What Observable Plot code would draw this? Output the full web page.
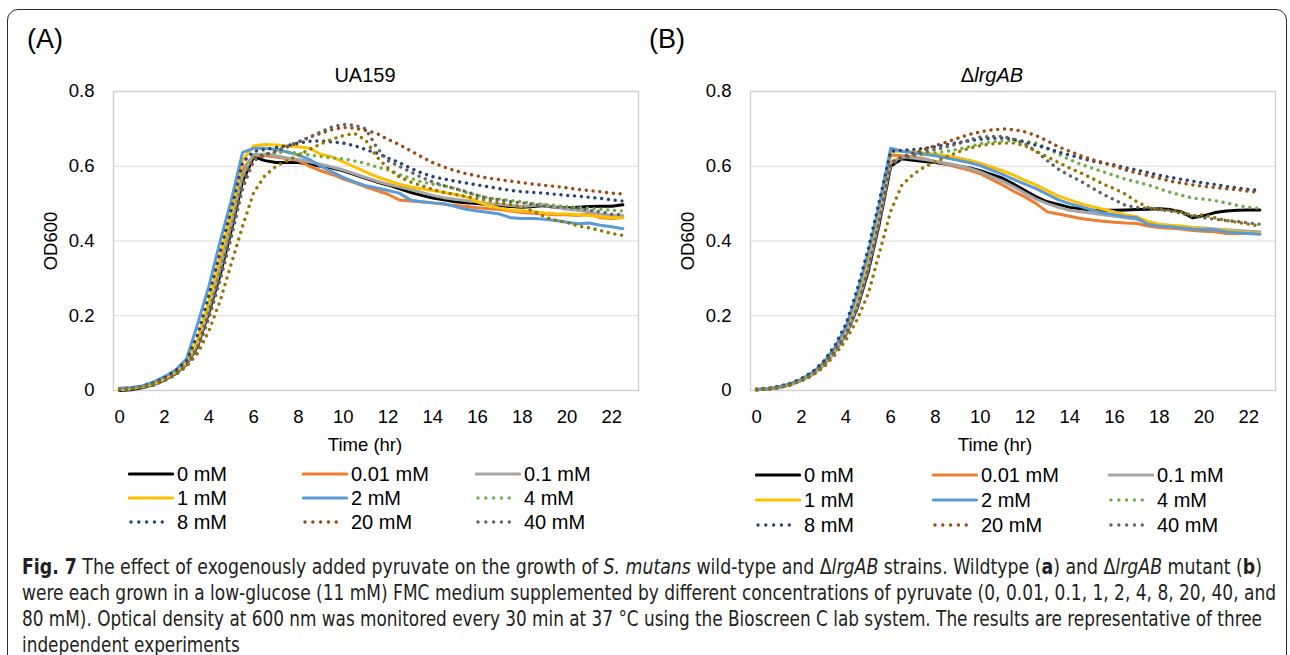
<!DOCTYPE html>
<html><head><meta charset="utf-8">
<script src="https://cdn.jsdelivr.net/npm/d3@7"></script>
<script src="https://cdn.jsdelivr.net/npm/@observablehq/plot@0.6"></script>
<style>
html,body{margin:0;padding:0;background:#fff}
body{width:1290px;height:655px;overflow:hidden;position:relative;font-family:"Liberation Sans",Arimo,Arial,sans-serif;color:#000}
.abs{position:absolute;white-space:nowrap}
#box{position:absolute;left:7px;top:9px;width:1280px;height:720px;border:1.6px solid #2a2a2a;border-radius:11px;box-sizing:border-box}
.panel{position:absolute;top:0}
.lg{position:absolute;font-size:20px;display:flex;align-items:center;white-space:nowrap}
.lg svg{display:block;margin-right:3px}
.cap{position:absolute;left:22px;white-space:nowrap;font-family:"DejaVu Sans Condensed","Liberation Sans Narrow","Liberation Sans",sans-serif;font-size:20.5px;color:#231f20;transform-origin:0 50%}
</style>
</head>
<body>
<div id="box"></div>
<div class="abs" style="left:27px;top:24px;font-size:27px">(A)</div>
<div class="abs" style="left:649px;top:24px;font-size:27px">(B)</div>
<div class="abs" style="left:365px;top:75px;font-size:20px;transform:translate(-50%,-50%)">UA159</div>
<div class="abs" style="left:992px;top:75px;font-size:20px;transform:translate(-50%,-50%)">Δ<i>lrgAB</i></div>
<div class="abs" style="left:365px;top:445px;font-size:18.5px;transform:translate(-50%,-50%)">Time (hr)</div>
<div class="abs" style="left:995px;top:445px;font-size:18.5px;transform:translate(-50%,-50%)">Time (hr)</div>
<div id="panelA" class="panel" style="left:0px"></div>
<div id="panelB" class="panel" style="left:637px"></div>
<div id="legA"></div>
<div id="legB"></div>
<div class="cap" id="cap1" style="top:555px"><b>Fig. 7</b> The effect of exogenously added pyruvate on the growth of <i>S. mutans</i> wild-type and Δ<i>lrgAB</i> strains. Wildtype (<b>a</b>) and Δ<i>lrgAB</i> mutant (<b>b</b>)</div>
<div class="cap" id="cap2" style="top:581px">were each grown in a low-glucose (11 mM) FMC medium supplemented by different concentrations of pyruvate (0, 0.01, 0.1, 1, 2, 4, 8, 20, 40, and</div>
<div class="cap" id="cap3" style="top:607px">80 mM). Optical density at 600 nm was monitored every 30 min at 37 °C using the Bioscreen C lab system. The results are representative of three</div>
<div class="cap" id="cap4" style="top:633px">independent experiments</div>
<script>
// ---- time points (hr) ----
const hours = [0,0.5,1,1.5,2,2.5,3,3.5,4,4.5,5,5.5,6,6.5,7,7.5,8,8.5,9,9.5,10,10.5,11,11.5,12,12.5,13,13.5,14,14.5,15,15.5,16,16.5,17,17.5,18,18.5,19,19.5,20,20.5,21,21.5,22,22.5];
const xTicks = [0,2,4,6,8,10,12,14,16,18,20,22];
const yTicks = [0,0.2,0.4,0.6,0.8];
const concLabels = ["0 mM","0.01 mM","0.1 mM","1 mM","2 mM","4 mM","8 mM","20 mM","40 mM","80 mM"];
const seriesColors = ["#000000","#ED7D31","#A5A5A5","#FFC000","#5B9BD5","#70AD47","#264478","#9E480E","#636363","#997300"];
const seriesDotted = [false,false,false,false,false,true,true,true,true,true];
const inLegend = [true,true,true,true,true,true,true,true,true,false];

// ---- Panel A: UA159 (OD600) ----
const ua159_0mM = [0.000,0.002,0.007,0.015,0.028,0.045,0.070,0.120,0.210,0.310,0.430,0.560,0.625,
 0.615,0.610,0.610,0.610,0.605,0.600,0.595,0.588,0.578,0.568,0.558,0.550,0.540,0.530,0.522,0.515,0.510,0.505,0.502,0.500,0.497,0.494,0.492,0.490,0.492,0.495,0.490,0.488,0.490,0.492,0.493,0.493,0.497];
const ua159_001mM = [0.003,0.005,0.010,0.018,0.032,0.050,0.075,0.135,0.235,0.345,0.460,0.590,0.630,
 0.628,0.625,0.620,0.615,0.600,0.588,0.578,0.566,0.556,0.545,0.535,0.525,0.510,0.507,0.505,0.502,0.498,0.495,0.492,0.489,0.486,0.484,0.480,0.476,0.474,0.472,0.470,0.470,0.468,0.472,0.462,0.460,0.463];
const ua159_01mM = [0.003,0.005,0.009,0.016,0.030,0.047,0.072,0.125,0.220,0.325,0.445,0.575,0.632,
 0.632,0.628,0.622,0.618,0.612,0.605,0.598,0.590,0.580,0.570,0.560,0.552,0.545,0.538,0.530,0.522,0.516,0.512,0.508,0.505,0.500,0.498,0.495,0.492,0.495,0.497,0.490,0.485,0.482,0.478,0.472,0.468,0.468];
const ua159_1mM = [0.003,0.005,0.010,0.018,0.032,0.050,0.078,0.135,0.240,0.360,0.475,0.615,0.655,
 0.658,0.657,0.655,0.652,0.648,0.632,0.625,0.612,0.598,0.585,0.572,0.562,0.552,0.545,0.540,0.535,0.530,0.525,0.518,0.505,0.495,0.488,0.482,0.480,0.478,0.475,0.473,0.472,0.470,0.468,0.465,0.462,0.462];
const ua159_2mM = [0.006,0.008,0.012,0.022,0.037,0.055,0.085,0.180,0.280,0.400,0.510,0.637,0.648,
 0.648,0.645,0.638,0.630,0.618,0.600,0.585,0.570,0.558,0.548,0.542,0.535,0.528,0.510,0.505,0.502,0.500,0.492,0.485,0.480,0.476,0.472,0.462,0.460,0.460,0.458,0.455,0.450,0.446,0.448,0.442,0.438,0.433];
const ua159_4mM = [0.003,0.005,0.009,0.016,0.029,0.045,0.070,0.120,0.215,0.320,0.440,0.570,0.625,
 0.632,0.636,0.638,0.635,0.630,0.626,0.622,0.620,0.614,0.608,0.598,0.590,0.578,0.568,0.558,0.552,0.548,0.540,0.530,0.522,0.515,0.512,0.508,0.505,0.500,0.498,0.495,0.492,0.490,0.487,0.485,0.482,0.480];
const ua159_8mM = [0.004,0.006,0.011,0.020,0.034,0.052,0.080,0.150,0.255,0.370,0.485,0.610,0.640,
 0.645,0.650,0.655,0.662,0.667,0.668,0.665,0.662,0.655,0.645,0.635,0.622,0.610,0.595,0.582,0.572,0.566,0.560,0.555,0.550,0.545,0.540,0.535,0.532,0.530,0.528,0.525,0.522,0.520,0.517,0.514,0.510,0.507];
const ua159_20mM = [0.002,0.004,0.008,0.015,0.028,0.044,0.068,0.115,0.205,0.305,0.420,0.550,0.620,
 0.632,0.640,0.652,0.665,0.678,0.688,0.698,0.704,0.702,0.696,0.688,0.672,0.658,0.642,0.625,0.610,0.598,0.588,0.580,0.574,0.568,0.564,0.560,0.556,0.552,0.549,0.546,0.542,0.538,0.535,0.532,0.528,0.526];
const ua159_40mM = [0.002,0.004,0.008,0.014,0.026,0.042,0.065,0.110,0.195,0.295,0.410,0.540,0.615,
 0.630,0.640,0.652,0.665,0.678,0.692,0.705,0.712,0.710,0.700,0.650,0.615,0.600,0.585,0.570,0.558,0.548,0.540,0.532,0.522,0.514,0.510,0.505,0.502,0.498,0.493,0.490,0.490,0.488,0.482,0.478,0.472,0.470];
const ua159_80mM = [0.005,0.006,0.010,0.017,0.028,0.042,0.065,0.100,0.160,0.240,0.340,0.440,0.530,
 0.575,0.600,0.615,0.630,0.645,0.660,0.672,0.682,0.688,0.670,0.625,0.595,0.572,0.558,0.548,0.538,0.530,0.524,0.519,0.514,0.508,0.502,0.497,0.490,0.480,0.465,0.455,0.450,0.440,0.435,0.428,0.420,0.415];

// ---- Panel B: ΔlrgAB (OD600) ----
const lrgAB_0mM = [0.002,0.004,0.008,0.015,0.027,0.043,0.068,0.105,0.150,0.220,0.320,0.450,0.600,
 0.620,0.616,0.613,0.610,0.605,0.600,0.596,0.588,0.578,0.568,0.552,0.535,0.518,0.505,0.498,0.490,0.486,0.483,0.482,0.482,0.483,0.484,0.485,0.486,0.484,0.478,0.462,0.468,0.476,0.480,0.482,0.483,0.483];
const lrgAB_001mM = [0.003,0.005,0.009,0.016,0.028,0.045,0.070,0.110,0.160,0.240,0.345,0.480,0.630,
 0.628,0.625,0.620,0.613,0.605,0.597,0.590,0.580,0.565,0.550,0.533,0.518,0.500,0.478,0.472,0.466,0.460,0.456,0.453,0.450,0.448,0.447,0.440,0.436,0.434,0.432,0.428,0.426,0.425,0.420,0.420,0.420,0.420];
const lrgAB_01mM = [0.002,0.004,0.008,0.015,0.027,0.043,0.068,0.105,0.152,0.225,0.330,0.460,0.610,
 0.625,0.622,0.618,0.613,0.608,0.602,0.595,0.585,0.572,0.560,0.545,0.528,0.512,0.500,0.490,0.482,0.478,0.474,0.470,0.466,0.462,0.458,0.448,0.442,0.440,0.438,0.436,0.435,0.432,0.430,0.428,0.426,0.425];
const lrgAB_1mM = [0.003,0.005,0.010,0.017,0.029,0.046,0.072,0.112,0.165,0.250,0.360,0.490,0.640,
 0.640,0.638,0.635,0.632,0.628,0.622,0.616,0.608,0.598,0.588,0.576,0.562,0.550,0.535,0.520,0.510,0.500,0.492,0.485,0.478,0.470,0.465,0.452,0.445,0.442,0.440,0.436,0.432,0.430,0.428,0.425,0.422,0.420];
const lrgAB_2mM = [0.003,0.005,0.010,0.018,0.030,0.048,0.075,0.115,0.170,0.260,0.370,0.500,0.648,
 0.640,0.636,0.632,0.628,0.622,0.616,0.610,0.602,0.590,0.578,0.565,0.552,0.540,0.525,0.510,0.500,0.492,0.483,0.475,0.470,0.465,0.462,0.445,0.440,0.438,0.435,0.432,0.430,0.430,0.424,0.422,0.420,0.418];
const lrgAB_4mM = [0.002,0.004,0.008,0.015,0.027,0.043,0.068,0.105,0.150,0.222,0.325,0.455,0.605,
 0.620,0.628,0.632,0.636,0.640,0.645,0.652,0.660,0.666,0.668,0.668,0.667,0.662,0.648,0.632,0.618,0.605,0.595,0.585,0.575,0.565,0.558,0.550,0.540,0.530,0.522,0.515,0.512,0.508,0.502,0.495,0.490,0.487];
const lrgAB_8mM = [0.004,0.006,0.011,0.019,0.032,0.050,0.078,0.120,0.178,0.270,0.380,0.510,0.640,
 0.643,0.645,0.648,0.652,0.658,0.663,0.668,0.672,0.675,0.676,0.672,0.665,0.656,0.648,0.638,0.630,0.622,0.614,0.608,0.603,0.596,0.590,0.583,0.576,0.570,0.565,0.560,0.555,0.551,0.546,0.542,0.538,0.535];
const lrgAB_20mM = [0.002,0.004,0.008,0.015,0.027,0.043,0.068,0.105,0.150,0.222,0.325,0.455,0.610,
 0.625,0.635,0.645,0.655,0.665,0.675,0.685,0.692,0.697,0.700,0.698,0.692,0.682,0.668,0.652,0.640,0.628,0.618,0.610,0.600,0.590,0.582,0.575,0.568,0.560,0.555,0.550,0.546,0.543,0.540,0.537,0.533,0.530];
const lrgAB_40mM = [0.002,0.004,0.008,0.015,0.027,0.042,0.066,0.102,0.148,0.220,0.320,0.450,0.605,
 0.620,0.630,0.638,0.645,0.652,0.660,0.670,0.678,0.680,0.680,0.672,0.660,0.640,0.615,0.592,0.575,0.560,0.542,0.525,0.510,0.495,0.490,0.488,0.484,0.480,0.474,0.466,0.462,0.458,0.455,0.452,0.448,0.445];
const lrgAB_80mM = [0.002,0.004,0.008,0.015,0.026,0.040,0.062,0.095,0.135,0.190,0.260,0.370,0.480,
 0.550,0.578,0.598,0.612,0.625,0.638,0.648,0.655,0.660,0.662,0.662,0.655,0.640,0.625,0.610,0.595,0.582,0.568,0.552,0.540,0.525,0.505,0.490,0.485,0.482,0.478,0.468,0.470,0.462,0.455,0.450,0.445,0.440];

const panelAData = [ua159_0mM,ua159_001mM,ua159_01mM,ua159_1mM,ua159_2mM,ua159_4mM,ua159_8mM,ua159_20mM,ua159_40mM,ua159_80mM];
const panelBData = [lrgAB_0mM,lrgAB_001mM,lrgAB_01mM,lrgAB_1mM,lrgAB_2mM,lrgAB_4mM,lrgAB_8mM,lrgAB_20mM,lrgAB_40mM,lrgAB_80mM];

const FONT = '"Liberation Sans", Arimo, Arial, sans-serif';

function makePanel(seriesArrays) {
  const marks = [
    Plot.gridY([0.2, 0.4, 0.6], {stroke: "#d9d9d9", strokeOpacity: 1, strokeWidth: 1}),
    Plot.frame({stroke: "#cfcfcf", strokeWidth: 1.4})
  ];
  seriesArrays.forEach((vals, i) => {
    const rows = hours.map((t, j) => ({t, od: vals[j], conc: concLabels[i]}));
    const dotted = seriesDotted[i];
    marks.push(Plot.line(rows, {
      x: "t", y: "od",
      stroke: seriesColors[i],
      strokeWidth: dotted ? 3.4 : 3,
      strokeDasharray: dotted ? "0.01 6.8" : null,
      strokeLinecap: "round",
      strokeLinejoin: "round"
    }));
  });
  return Plot.plot({
    width: 645, height: 460,
    marginLeft: 113, marginRight: 7, marginTop: 91, marginBottom: 70,
    x: {domain: [-0.27, 23.2], ticks: xTicks, tickSize: 0, tickPadding: 19, label: null, tickFormat: d => String(d)},
    y: {domain: [0, 0.8], ticks: yTicks, tickSize: 0, tickPadding: 19, label: "OD600", labelAnchor: "center", labelArrow: "none", labelOffset: 70, tickFormat: d => String(d)},
    style: {fontSize: "18.5px", fontFamily: FONT, color: "#000", background: "transparent", overflow: "visible"},
    marks
  });
}

document.getElementById("panelA").appendChild(makePanel(panelAData));
document.getElementById("panelB").appendChild(makePanel(panelBData));

// ---- legends ----
function makeLegend(container, colX, rowY) {
  concLabels.forEach((lab, i) => {
    if (!inLegend[i]) return;
    const col = i % 3, row = Math.floor(i / 3);
    const d = document.createElement("div");
    d.className = "lg";
    d.style.left = colX[col] + "px";
    d.style.top = (rowY[row] - 12) + "px";
    d.style.height = "24px";
    const dotted = seriesDotted[i];
    d.innerHTML = `<svg width="46" height="10"><line x1="${dotted ? 3 : 1.5}" y1="5" x2="${dotted ? 42 : 44.5}" y2="5" stroke="${seriesColors[i]}" stroke-width="${dotted ? 3.4 : 3.2}" stroke-linecap="round" ${dotted ? 'stroke-dasharray="0.01 7.8"' : ''}/></svg><span>${lab}</span>`;
    container.appendChild(d);
  });
}
makeLegend(document.getElementById("legA"), [128, 302, 475], [474, 498, 522]);
makeLegend(document.getElementById("legB"), [755, 932, 1108], [475, 500, 525]);

// ---- caption line widths ----
const capTargets = {cap1: 1240, cap2: 1254, cap3: 1240};
let lastScale = 1;
["cap1","cap2","cap3"].forEach(id => {
  const el = document.getElementById(id);
  const w = el.getBoundingClientRect().width;
  lastScale = capTargets[id] / w;
  el.style.transform = `scaleX(${lastScale})`;
});
document.getElementById("cap4").style.transform = `scaleX(${lastScale})`;
</script>
</body></html>
